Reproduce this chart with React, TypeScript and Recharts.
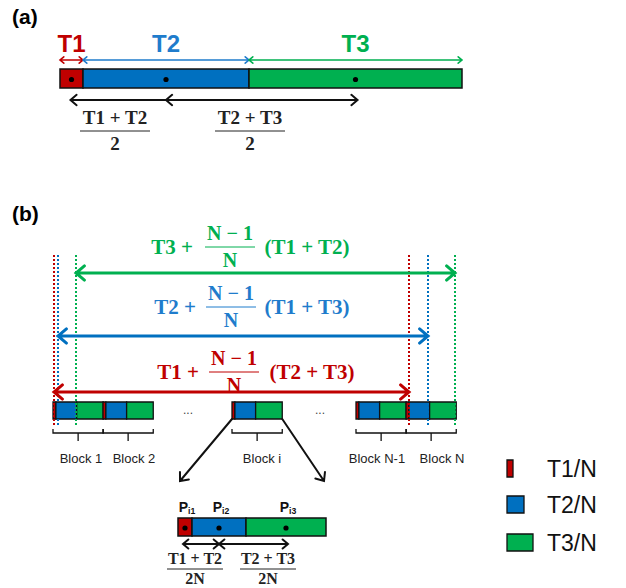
import React from "react";
import { ScatterChart, Scatter, XAxis, YAxis, ReferenceArea, ReferenceLine, ReferenceDot } from "recharts";

const W = 626;
const H = 588;

// (a) one full period
const segmentNames = ["T1", "T2", "T3"];
const segmentLengths = [23, 166, 213];
const segmentFill = ["#c00000", "#0070c0", "#00b050"];
const segmentText = ["#c00000", "#1f7ccc", "#00b050"];
const halfSumNums = ["T1 + T2", "T2 + T3"];
const halfSumX = [115, 250];

// (b) interleaved blocks
const blockNames = ["Block 1", "Block 2", "Block i", "Block N-1", "Block N"];
const blockStarts = [53, 103, 232, 356, 406];
const blockLabelX = [81, 134, 262, 377, 442];
const blockScale = 8;
const ellipsisX = [188, 320];

// (b) spans, ordered T1, T2, T3
const formulaLeads = ["T1 +", "T2 +", "T3 +"];
const formulaTails = ["(T2 + T3)", "(T1 + T3)", "(T1 + T2)"];
const formulaLeadX = [178, 175, 172];
const formulaFracX = [234, 231, 230];
const formulaTailX = [312, 307, 307];
const formulaRows = [372, 307, 247];
const arrowRows = [392, 336, 273];
const spanStart = [54, 58, 76];
const spanEnd = [409, 428, 455];

// zoom of block i
const zoomLengths = [14, 54, 80];
const pointSubs = ["i1", "i2", "i3"];
const zoomFracNums = ["T1 + T2", "T2 + T3"];
const zoomFracX = [195, 268];

// legend
const legendNames = ["T1/N", "T2/N", "T3/N"];
const legendWidths = [6, 17, 26];
const legendRows = [469, 505, 543];

const SANS = "'Liberation Sans', Arial, sans-serif";
const SERIF = "'Liberation Serif', 'Times New Roman', serif";

const starts = (x0: number, lens: number[]) =>
  lens.map((_, i) => x0 + lens.slice(0, i).reduce((s, v) => s + v, 0));

type Font = { size: number; family: string; weight?: string | number; fill?: string; anchor?: string };

function textShape(font: Font) {
  return (props: any) => {
    const { cx, cy, payload } = props;
    if (cx == null || cy == null) return <g />;
    return (
      <text
        x={cx}
        y={cy}
        textAnchor={font.anchor ?? "middle"}
        dominantBaseline="central"
        fontSize={font.size}
        fontFamily={font.family}
        fontWeight={font.weight ?? "normal"}
        fill={payload.fill ?? font.fill ?? "#000"}
      >
        {payload.text}
        {payload.sub ? (
          <tspan fontSize={font.size * 0.62} dy={4}>
            {payload.sub}
          </tspan>
        ) : null}
      </text>
    );
  };
}

function arrowShape(head: number, both: boolean) {
  return (p: any) => {
    const { x1, y1, x2, y2, stroke, strokeWidth } = p;
    const a = Math.atan2(y2 - y1, x2 - x1);
    const wing = 0.7;
    const tip = (x: number, y: number, dir: number) =>
      `M${x - head * Math.cos(dir - wing)},${y - head * Math.sin(dir - wing)}L${x},${y}L${x - head * Math.cos(dir + wing)},${y - head * Math.sin(dir + wing)}`;
    let d = `M${x1},${y1}L${x2},${y2}` + tip(x2, y2, a);
    if (both) d += tip(x1, y1, a + Math.PI);
    return <path d={d} fill="none" stroke={stroke} strokeWidth={strokeWidth} strokeLinecap="round" strokeLinejoin="miter" />;
  };
}

function braceShape(p: any) {
  const { x1, y1, x2 } = p;
  const mid = (x1 + x2) / 2;
  const d = `M${x1},${y1 - 4}L${x1},${y1}L${x2},${y1}L${x2},${y1 - 4}M${mid},${y1}L${mid},${y1 + 8}`;
  return <path d={d} fill="none" stroke="#111" strokeWidth={1.3} />;
}

export default function App() {
  // (a)
  const aX0 = 60;
  const aTop = 69;
  const aBot = 88;
  const aStarts = starts(aX0, segmentLengths);
  const aCenters = aStarts.map((s, i) => s + segmentLengths[i] / 2);
  const aMid = (aTop + aBot) / 2 + 1;

  // (b) blocks
  const bTop = 402;
  const bBot = 419;
  const blockLens = segmentLengths.map((l) => l / blockScale);
  const blockLen = blockLens.reduce((s, v) => s + v, 0);

  // zoom
  const zX0 = 178;
  const zTop = 518;
  const zBot = 536;
  const zStarts = starts(zX0, zoomLengths);
  const zCenters = zStarts.map((s, i) => s + zoomLengths[i] / 2);
  const zMid = (zTop + zBot) / 2 + 1;

  const panelLabels = [
    { x: 12, y: 16, text: "(a)" },
    { x: 12, y: 213, text: "(b)" },
  ];
  const segTitles = segmentNames.map((t, i) => ({ x: aCenters[i], y: 43, text: t, fill: segmentText[i] }));
  const halfSums = [
    ...halfSumNums.map((t, i) => ({ x: halfSumX[i], y: 117, text: t })),
    ...halfSumX.map((x) => ({ x, y: 143, text: "2" })),
  ];
  const formulaMain = [
    ...formulaLeads.map((t, i) => ({ x: formulaLeadX[i], y: formulaRows[i], text: t, fill: segmentText[i] })),
    ...formulaTails.map((t, i) => ({ x: formulaTailX[i], y: formulaRows[i], text: t, fill: segmentText[i] })),
  ];
  const formulaFrac = [
    ...formulaRows.map((y, i) => ({ x: formulaFracX[i], y: y - 14, text: "N \u2212 1", fill: segmentText[i] })),
    ...formulaRows.map((y, i) => ({ x: formulaFracX[i], y: y + 13, text: "N", fill: segmentText[i] })),
  ];
  const blockTexts = blockNames.map((t, i) => ({ x: blockLabelX[i], y: 458, text: t }));
  const dots = ellipsisX.map((x) => ({ x, y: 410, text: "..." }));
  const pointTexts = pointSubs.map((s, i) => ({ x: zCenters[i] + 2, y: 507, text: "P", sub: s }));
  const zoomFracs = [
    ...zoomFracNums.map((t, i) => ({ x: zoomFracX[i], y: 558, text: t })),
    ...zoomFracX.map((x) => ({ x, y: 578, text: "2N" })),
  ];
  const legendTexts = legendNames.map((t, i) => ({ x: 547, y: legendRows[i], text: t }));

  return (
    <div style={{ position: "absolute", left: 0, top: 0, width: W, height: H, background: "#fff" }}>
      <ScatterChart width={W} height={H} margin={{ top: 0, right: 0, bottom: 0, left: 0 }}>
        <XAxis type="number" dataKey="x" domain={[0, W]} allowDataOverflow hide />
        <YAxis type="number" dataKey="y" domain={[0, H]} allowDataOverflow reversed hide />

        {/* (a) bar */}
        {segmentLengths.map((l, i) => (
          <ReferenceArea key={`a${i}`} x1={aStarts[i]} x2={aStarts[i] + l} y1={aTop} y2={aBot} fill={segmentFill[i]} fillOpacity={1} stroke="#111" strokeWidth={1.5} ifOverflow="visible" />
        ))}

        {/* (b) blocks */}
        {blockStarts.map((b, k) =>
          starts(b, blockLens).map((s, i) => (
            <ReferenceArea key={`b${k}-${i}`} x1={s} x2={s + blockLens[i]} y1={bTop} y2={bBot} fill={segmentFill[i]} fillOpacity={1} stroke="#111" strokeWidth={1.3} ifOverflow="visible" />
          ))
        )}

        {/* zoomed block i */}
        {zoomLengths.map((l, i) => (
          <ReferenceArea key={`z${i}`} x1={zStarts[i]} x2={zStarts[i] + l} y1={zTop} y2={zBot} fill={segmentFill[i]} fillOpacity={1} stroke="#111" strokeWidth={1.5} ifOverflow="visible" />
        ))}

        {/* legend swatches */}
        {legendWidths.map((w, i) => (
          <ReferenceArea key={`lg${i}`} x1={507} x2={507 + w} y1={legendRows[i] - 9} y2={legendRows[i] + 8} fill={segmentFill[i]} fillOpacity={1} stroke="#111" strokeWidth={1.3} ifOverflow="visible" />
        ))}

        {/* (a) arrows */}
        {segmentLengths.map((l, i) => (
          <ReferenceLine key={`aa${i}`} segment={[{ x: aStarts[i], y: 60 }, { x: aStarts[i] + l, y: 60 }]} stroke={segmentText[i]} strokeWidth={1.6} shape={arrowShape(5, true)} ifOverflow="visible" />
        ))}
        <ReferenceLine segment={[{ x: aCenters[1], y: 100 }, { x: aCenters[0] - 1, y: 100 }]} stroke="#111" strokeWidth={2} shape={arrowShape(8, false)} ifOverflow="visible" />
        <ReferenceLine segment={[{ x: aCenters[1], y: 100 }, { x: aCenters[2] + 2, y: 100 }]} stroke="#111" strokeWidth={2} shape={arrowShape(8, true)} ifOverflow="visible" />
        {halfSumX.map((x, i) => (
          <ReferenceLine key={`hb${i}`} segment={[{ x: x - 35, y: 131 }, { x: x + 35, y: 131 }]} stroke="#222" strokeWidth={1} ifOverflow="visible" />
        ))}

        {/* (b) dotted guides */}
        {spanStart.map((x, i) => (
          <ReferenceLine key={`dl${i}`} segment={[{ x, y: 255 }, { x, y: 425 }]} stroke={segmentFill[i]} strokeWidth={2} strokeDasharray="2 2" ifOverflow="visible" />
        ))}
        {spanEnd.map((x, i) => (
          <ReferenceLine key={`dr${i}`} segment={[{ x, y: 255 }, { x, y: 425 }]} stroke={segmentFill[i]} strokeWidth={2} strokeDasharray="2 2" ifOverflow="visible" />
        ))}

        {/* (b) span arrows */}
        {arrowRows.map((y, i) => (
          <ReferenceLine key={`sa${i}`} segment={[{ x: spanStart[i], y }, { x: spanEnd[i], y }]} stroke={segmentFill[i]} strokeWidth={3} shape={arrowShape(11, true)} ifOverflow="visible" />
        ))}
        {formulaRows.map((y, i) => (
          <ReferenceLine key={`fb${i}`} segment={[{ x: formulaFracX[i] - 25, y }, { x: formulaFracX[i] + 25, y }]} stroke={segmentText[i]} strokeWidth={1} ifOverflow="visible" />
        ))}

        {/* braces */}
        {blockStarts.map((b, k) => (
          <ReferenceLine key={`br${k}`} segment={[{ x: b, y: 433 }, { x: b + blockLen, y: 433 }]} shape={braceShape} ifOverflow="visible" />
        ))}

        {/* zoom connectors */}
        <ReferenceLine segment={[{ x: blockStarts[2], y: bBot }, { x: 180, y: 481 }]} stroke="#111" strokeWidth={2} shape={arrowShape(9, false)} ifOverflow="visible" />
        <ReferenceLine segment={[{ x: blockStarts[2] + blockLen, y: bBot }, { x: 324, y: 481 }]} stroke="#111" strokeWidth={2} shape={arrowShape(9, false)} ifOverflow="visible" />

        {/* zoom arrows + fractions */}
        <ReferenceLine segment={[{ x: zCenters[0] - 2, y: 544 }, { x: zCenters[1], y: 544 }]} stroke="#111" strokeWidth={2} shape={arrowShape(7, true)} ifOverflow="visible" />
        <ReferenceLine segment={[{ x: zCenters[1], y: 544 }, { x: zCenters[2] + 2, y: 544 }]} stroke="#111" strokeWidth={2} shape={arrowShape(7, true)} ifOverflow="visible" />
        {zoomFracX.map((x, i) => (
          <ReferenceLine key={`zb${i}`} segment={[{ x: x - 28, y: 569 }, { x: x + 28, y: 569 }]} stroke="#222" strokeWidth={1} ifOverflow="visible" />
        ))}

        {/* centre dots */}
        {aCenters.map((x, i) => (
          <ReferenceDot key={`ad${i}`} x={x} y={aMid} r={2.6} fill="#000" stroke="none" ifOverflow="visible" />
        ))}
        {zCenters.map((x, i) => (
          <ReferenceDot key={`zd${i}`} x={x} y={zMid} r={2.6} fill="#000" stroke="none" ifOverflow="visible" />
        ))}

        {/* texts */}
        <Scatter data={panelLabels} isAnimationActive={false} shape={textShape({ size: 21, family: SANS, weight: "bold", anchor: "start" })} />
        <Scatter data={segTitles} isAnimationActive={false} shape={textShape({ size: 24, family: SANS, weight: "bold" })} />
        <Scatter data={halfSums} isAnimationActive={false} shape={textShape({ size: 19, family: SERIF, weight: "bold", fill: "#222" })} />
        <Scatter data={formulaMain} isAnimationActive={false} shape={textShape({ size: 21, family: SERIF, weight: "bold" })} />
        <Scatter data={formulaFrac} isAnimationActive={false} shape={textShape({ size: 20, family: SERIF, weight: "bold" })} />
        <Scatter data={blockTexts} isAnimationActive={false} shape={textShape({ size: 13, family: SANS, fill: "#222" })} />
        <Scatter data={dots} isAnimationActive={false} shape={textShape({ size: 12, family: SANS, fill: "#444" })} />
        <Scatter data={pointTexts} isAnimationActive={false} shape={textShape({ size: 14, family: SANS, weight: "bold", fill: "#111" })} />
        <Scatter data={zoomFracs} isAnimationActive={false} shape={textShape({ size: 16, family: SERIF, weight: "bold", fill: "#222" })} />
        <Scatter data={legendTexts} isAnimationActive={false} shape={textShape({ size: 23, family: SANS, fill: "#111", anchor: "start" })} />
      </ScatterChart>
    </div>
  );
}
